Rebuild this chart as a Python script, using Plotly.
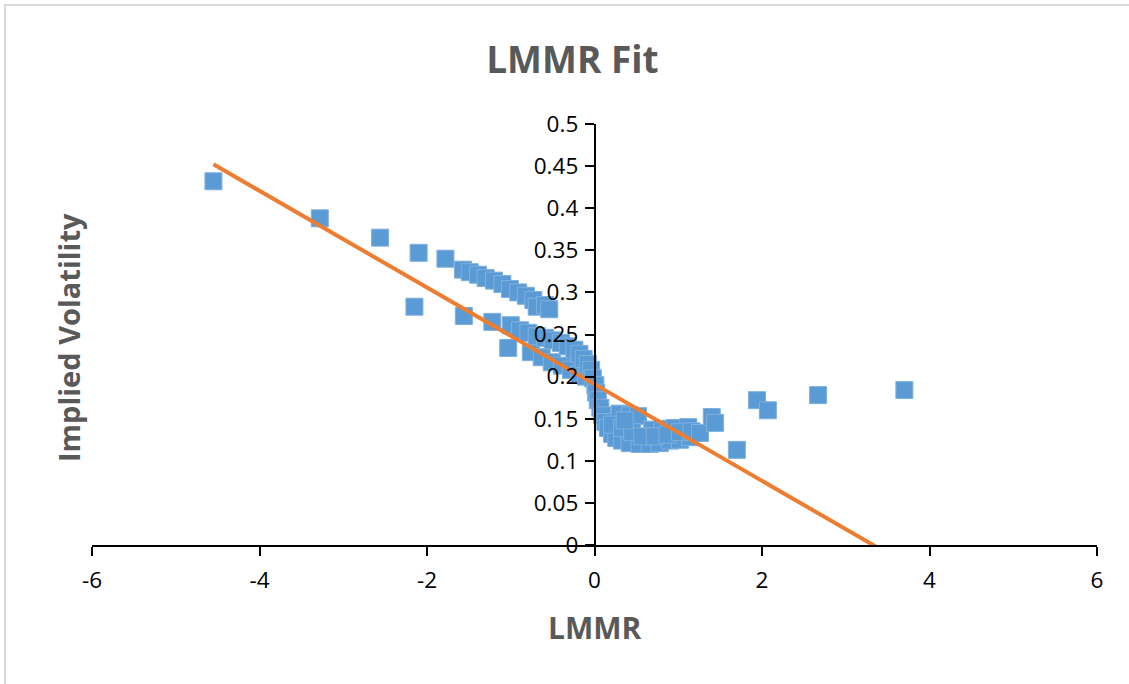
import plotly.graph_objects as go

# ---- data ----
lmmr = [
    -4.55, -3.28, -2.56, -2.10, -2.15, -1.78,
    -1.57, -1.49, -1.39, -1.30, -1.20, -1.10, -1.01, -0.91, -0.82, -0.73, -0.69, -0.59, -0.54,
    -1.56, -1.22, -1.03, -1.00, -0.89, -0.79, -0.76, -0.69, -0.63, -0.59, -0.51, -0.50, -0.40,
    -0.39, -0.32, -0.28, -0.24, -0.18, -0.18, -0.13, -0.10, -0.08, -0.04,
    -0.02, 0.01, 0.02, 0.04, 0.07, 0.09, 0.13, 0.16, 0.21, 0.26, 0.33, 0.42, 0.54, 0.66, 0.78,
    0.90, 1.02, 1.14,
    0.30, 0.42, 0.52, 0.69, 0.81, 0.96, 1.12,
    0.21, 0.33, 0.45, 0.57, 0.36, 0.72, 0.87, 1.02, 1.16,
    1.26, 1.40, 1.44, 1.70, 1.94, 2.07, 2.67, 3.70,
]
implied_vol = [
    0.432, 0.388, 0.365, 0.347, 0.283, 0.340,
    0.327, 0.324, 0.321, 0.317, 0.314, 0.310, 0.304, 0.300, 0.296, 0.291, 0.283, 0.285, 0.280,
    0.272, 0.265, 0.234, 0.261, 0.255, 0.252, 0.229, 0.248, 0.223, 0.246, 0.217, 0.243, 0.240,
    0.213, 0.236, 0.208, 0.232, 0.227, 0.203, 0.221, 0.200, 0.215, 0.208,
    0.198, 0.190, 0.181, 0.172, 0.163, 0.154, 0.146, 0.139, 0.132, 0.127, 0.124, 0.121, 0.120, 0.120, 0.121,
    0.124, 0.125, 0.128,
    0.156, 0.154, 0.153, 0.137, 0.138, 0.139, 0.140,
    0.143, 0.139, 0.134, 0.129, 0.148, 0.129, 0.131, 0.134, 0.135,
    0.133, 0.152, 0.145, 0.113, 0.172, 0.160, 0.178, 0.184,
]
trend_slope = -0.0574
trend_intercept = 0.191

x_ticks = [-6, -4, -2, 0, 2, 4, 6]
y_ticks = [0, 0.05, 0.1, 0.15, 0.2, 0.25, 0.3, 0.35, 0.4, 0.45, 0.5]
y_tick_labels = ["0", "0.05", "0.1", "0.15", "0.2", "0.25", "0.3", "0.35", "0.4", "0.45", "0.5"]

trend_x = [min(lmmr), max(lmmr)]
trend_y = [trend_intercept + trend_slope * v for v in trend_x]

FONT = "Open Sans"

fig = go.Figure()
fig.add_trace(go.Scatter(
    x=lmmr, y=implied_vol, mode="markers",
    marker=dict(symbol="square", size=17, color="#5B9BD5",
                line=dict(color="#7FB0DE", width=1)),
    cliponaxis=False, name="Implied Volatility",
))
fig.add_trace(go.Scatter(
    x=trend_x, y=trend_y, mode="lines",
    line=dict(color="#ED7D31", width=4), name="Linear fit",
))

axis_common = dict(
    showgrid=False, zeroline=False, showline=True, linecolor="black", linewidth=1.5,
    ticks="outside", ticklen=9, tickwidth=1.5, tickcolor="black",
    tickfont=dict(family=FONT, size=22.5, color="black"),
)

fig.update_layout(
    width=1129, height=684,
    margin=dict(l=92, r=32, t=124, b=139),
    plot_bgcolor="white", paper_bgcolor="white",
    showlegend=False,
    title=dict(text="<b>LMMR Fit</b>", x=0.507, xref="container", y=0.912,
               yref="container", xanchor="center", yanchor="middle",
               font=dict(family=FONT, size=37, color="#595959")),
    xaxis=dict(range=[-6, 6], tickvals=x_ticks, ticktext=[str(t) for t in x_ticks],
               ticklabelstandoff=5, **axis_common),
    yaxis=dict(range=[0, 0.5], tickvals=y_ticks, ticktext=y_tick_labels,
               anchor="free", position=0.5, layer="above traces",
               ticklabelstandoff=2, **axis_common),
    annotations=[
        dict(text="<b>Implied Volatility</b>", xref="paper", yref="paper",
             x=-0.0239, y=0.494, textangle=-90, showarrow=False,
             xanchor="center", yanchor="middle",
             font=dict(family=FONT, size=29, color="#595959")),
        dict(text="<b>LMMR</b>", xref="paper", yref="paper",
             x=0.5, y=-0.195, showarrow=False, xanchor="center", yanchor="middle",
             font=dict(family=FONT, size=30, color="#595959")),
    ],
    shapes=[
        dict(type="rect", xref="paper", yref="paper", x0=-0.0866, y0=-0.6,
             x1=1.2, y1=1.2827, line=dict(color="#D9D9D9", width=2),
             fillcolor="rgba(0,0,0,0)", layer="below"),
    ],
)

fig.write_html("out.html")
